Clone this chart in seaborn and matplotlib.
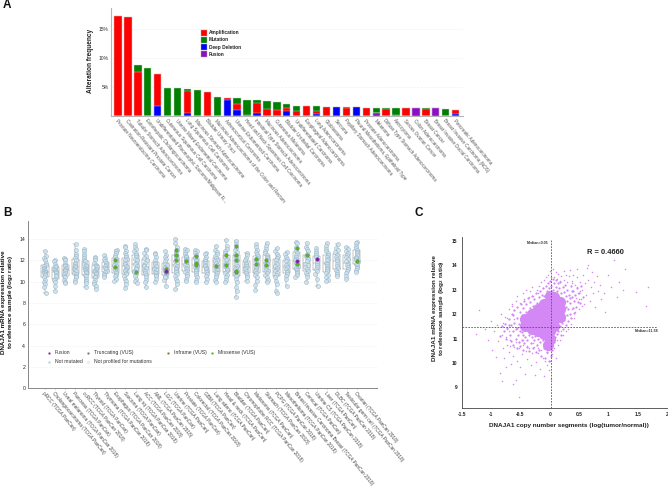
import seaborn as sns
import matplotlib
matplotlib.use('Agg')
import matplotlib.pyplot as plt
import numpy as np
import pandas as pd

W, H = 668, 487

# panel A
a_types = ['Prostate Neuroendocrine Carcinoma', 'Castration-Resistant Prostate Cancer',
    'Tubular Stomach Adenocarcinoma', 'Extrahepatic Cholangiocarcinoma',
    'Undifferentiated Pleomorphic Sarcoma/Malignant Fi...', 'Cutaneous Squamous Cell Carcinoma',
    'Uterine Mixed Endometrial Carcinoma', 'Lung Squamous Cell Carcinoma',
    'Mucinous Stomach Adenocarcinoma', 'Bladder Urinary Tract',
    'Mucinous Adenocarcinoma of the Colon and Rectum', 'Adrenocortical Carcinoma',
    'Uterine Endometrioid Carcinoma', 'Head and Neck Squamous Cell Carcinoma',
    'Intestinal Type Stomach Adenocarcinoma', 'Mucinous Adenocarcinoma',
    'Cutaneous Melanoma', 'Bladder Urothelial Carcinoma', 'Undifferentiated Carcinoma',
    'Esophageal Adenocarcinoma', 'Lung Adenocarcinoma', 'Glioblastoma', 'Sarcoma',
    'Papillary Stomach Adenocarcinoma', 'Pleural Mesothelioma, Epithelioid Type',
    'Prostate Adenocarcinoma', 'Melanoma', 'Diffuse Type Stomach Adenocarcinoma',
    'Astrocytoma', 'Serous Ovarian Cancer', 'Colon Adenocarcinoma', 'Breast Cancer',
    'Breast Invasive Ductal Carcinoma', 'Breast Invasive Carcinoma (NOS)',
    'Pancreatic Adenocarcinoma']
a_fusion = [0, 0, 0, 0, 0, 0, 0, 0, 0, 0, 0, 0, 0, 0, 0, 0, 0, 0, 0, 0, 0, 0, 0, 0, 0, 0,
    0.5, 0, 0, 0, 1.35, 0, 1.3, 0, 0]
a_deletion = [0, 0, 0, 0, 1.8, 0, 0, 0.45, 0, 0, 0, 2.8, 1.0, 0, 0.5, 0, 0, 0.8, 0, 0, 0.4,
    0, 1.6, 0, 1.5, 0, 0, 0, 0, 0, 0, 0, 0, 0, 0.3]
a_amplification = [17.3, 17.1, 7.65, 0, 5.45, 0, 0, 3.85, 0, 4.2, 0, 0.35, 1.05, 0.2, 1.7,
    1.25, 1.1, 0.6, 0.8, 1.65, 0.45, 1.6, 0, 1.35, 0, 1.45, 0, 1.2, 0.15, 1.35, 0, 1.2, 0, 0, 0.8]
a_mutation = [0, 0, 1.2, 8.3, 0, 4.8, 4.8, 0.3, 4.55, 0, 3.3, 0, 1.0, 2.6, 0.6, 1.25, 1.3,
    0.65, 0.9, 0, 0.8, 0, 0, 0.2, 0, 0, 0.9, 0.2, 1.25, 0, 0, 0.15, 0, 1.15, 0]
a_yticks = [5, 10, 15]
a_legend = ['Amplification', 'Mutation', 'Deep Deletion', 'Fusion']

# panel B
b_studies = ['pRCC (TCGA PanCan)', 'Cholangiocarcinoma (TCGA PanCan)',
    'Uveal melanoma (TCGA PanCan 2018)', 'Pancreas (TCGA PanCan)', 'ccRCC (TCGA PanCan 2018)',
    'Thyroid (TCGA PanCan)', 'Thymoma (TCGA PanCan 2018)', 'Esophagus (TCGA PanCan 2018)',
    'Sarcoma (TCGA PanCan)', 'Lung sq (TCGA PanCan 2018)', 'ACC (TCGA PanCan 2018)',
    'AML (TCGA PanCan 2018)', 'LGG (TCGA PanCan)', 'Uterine (TCGA PanCan)',
    'Prostate (TCGA PanCan)', 'Colorectal (TCGA PanCan 2018)', 'GBM (TCGA PanCan)',
    'Lung adeno (TCGA PanCan)', 'Head & neck (TCGA PanCan)', 'Bladder (TCGA PanCan)',
    'Chromophobe RCC (TCGA PanCan 2018)', 'Melanoma (TCGA PanCan)', 'Stomach (TCGA PanCan 2018)',
    'PCPG (TCGA PanCan 2018)', 'Mesothelioma (TCGA PanCan 2018)',
    'Breast Invasive Carcinoma Breast (TCGA PanCan 2018)', 'Cervical (TCGA PanCan)',
    'Uterine CS (TCGA PanCan 2018)', 'Liver (TCGA PanCan)', 'DLBC (TCGA PanCan 2018)',
    'Testicular germ cell (TCGA PanCan 2018)', 'Ovarian (TCGA PanCan 2018)']
b_values = [
    [12.9, 12.4, 12.2, 12.0, 11.8, 11.6, 11.5, 11.3, 11.2, 11.1, 11.0, 10.9, 10.9, 10.8, 10.7, 10.6, 10.4, 10.2, 10.0, 9.8, 9.5, 8.95],
    [12.0, 11.9, 11.7, 11.5, 11.4, 11.2, 11.1, 11.0, 10.9, 10.8, 10.6, 10.5, 10.3, 10.2, 10.0, 9.6, 9.15],
    [12.2, 12.1, 12.0, 11.8, 11.6, 11.5, 11.3, 11.2, 11.1, 11.0, 10.8, 10.7, 10.5, 10.4, 10.2, 10.0, 9.9],
    [13.5, 13.0, 12.6, 12.4, 12.2, 12.0, 11.8, 11.7, 11.5, 11.4, 11.2, 11.1, 11.0, 10.8, 10.7, 10.5, 10.4, 10.2, 10.0],
    [13.1, 12.9, 12.6, 12.4, 12.2, 12.0, 11.9, 11.7, 11.6, 11.5, 11.3, 11.2, 11.1, 11.0, 10.9, 10.8, 10.6, 10.5, 10.3, 10.1, 9.9, 9.5],
    [12.3, 12.2, 12.0, 11.8, 11.6, 11.5, 11.4, 11.2, 11.1, 11.0, 10.9, 10.8, 10.7, 10.5, 10.4, 10.2, 10.0, 9.8, 9.6, 9.3],
    [12.5, 12.2, 12.1, 11.9, 11.8, 11.6, 11.5, 11.3, 11.2, 11.0, 10.9, 10.7, 10.6, 10.4],
    [13.0, 12.9, 12.7, 12.5, 12.3, 12.1, 11.9, 11.8, 11.6, 11.5, 11.3, 11.2, 11.1, 10.9, 10.8, 10.6, 10.5, 10.3, 10.1],
    [13.4, 13.3, 12.9, 12.7, 12.5, 12.3, 12.1, 12.0, 11.8, 11.7, 11.5, 11.4, 11.2, 11.1, 11.0, 10.8, 10.7, 10.5, 10.3, 10.1, 9.8, 9.4],
    [13.5, 13.3, 13.1, 12.9, 12.7, 12.5, 12.3, 12.1, 12.0, 11.8, 11.7, 11.5, 11.3, 11.2, 11.0, 10.9, 10.7, 10.5, 10.3, 10.1, 9.9],
    [13.1, 13.0, 12.7, 12.4, 12.2, 12.0, 11.8, 11.6, 11.5, 11.3, 11.1, 11.0, 10.8, 10.6, 10.4, 10.2, 10.0, 9.5],
    [12.7, 12.6, 12.3, 12.0, 11.8, 11.7, 11.5, 11.3, 11.2, 11.1, 10.9, 10.8, 10.6, 10.5, 10.3, 10.0],
    [12.9, 12.5, 12.3, 12.1, 11.9, 11.7, 11.6, 11.4, 11.3, 11.2, 11.1, 11.0, 10.9, 10.8, 10.7, 10.5, 10.4, 10.2, 10.4, 9.6],
    [14.0, 13.6, 13.3, 13.0, 12.8, 12.6, 12.4, 12.2, 12.1, 11.9, 11.8, 11.6, 11.5, 11.3, 11.2, 11.0, 10.9, 10.7, 10.5, 10.3, 10.1, 9.8, 9.3],
    [13.1, 13.0, 12.8, 12.6, 12.4, 12.3, 12.1, 12.0, 11.9, 11.7, 11.6, 11.5, 11.3, 11.2, 11.0, 10.9, 10.7, 10.5, 10.3, 10.1],
    [13.0, 12.9, 12.7, 12.5, 12.3, 12.2, 12.0, 11.9, 11.7, 11.6, 11.5, 11.4, 11.2, 11.1, 11.0, 10.8, 10.6, 10.4, 10.2, 10.0],
    [12.7, 12.6, 12.3, 12.1, 11.9, 11.8, 11.6, 11.5, 11.3, 11.2, 11.0, 10.9, 10.7, 10.5, 10.3, 10.0],
    [13.4, 13.0, 12.8, 12.6, 12.4, 12.2, 12.0, 11.9, 11.8, 11.6, 11.5, 11.4, 11.2, 11.1, 10.9, 10.8, 10.6, 10.4, 10.2, 10.0],
    [13.9, 13.4, 13.1, 12.9, 12.7, 12.5, 12.3, 12.1, 12.0, 11.8, 11.7, 11.5, 11.4, 11.2, 11.1, 10.9, 10.8, 10.6, 10.4, 10.2, 10.0],
    [13.8, 13.5, 13.2, 13.0, 12.8, 12.6, 12.4, 12.2, 12.0, 11.9, 11.7, 11.5, 11.3, 11.2, 11.0, 10.8, 10.6, 10.5, 10.3, 10.0, 9.5, 9.1, 8.6],
    [12.7, 12.5, 12.2, 12.0, 11.8, 11.7, 11.5, 11.3, 11.2, 11.0, 10.8, 10.6, 10.4, 10.1],
    [13.5, 13.3, 13.0, 12.8, 12.6, 12.4, 12.2, 12.1, 11.9, 11.7, 11.6, 11.4, 11.3, 11.1, 11.0, 10.8, 10.6, 10.4, 10.1, 9.7, 9.2],
    [13.6, 13.4, 13.1, 12.9, 12.7, 12.5, 12.3, 12.2, 12.0, 11.8, 11.7, 11.5, 11.3, 11.1, 11.0, 10.8, 10.6, 10.4, 10.2, 10.0],
    [13.2, 12.9, 12.6, 12.4, 12.2, 12.0, 11.8, 11.7, 11.5, 11.3, 11.1, 11.0, 10.8, 10.6, 10.4, 10.1, 9.8, 9.1, 8.9],
    [12.8, 12.6, 12.3, 12.1, 11.9, 11.7, 11.6, 11.4, 11.2, 11.0, 10.9, 10.7, 10.5, 10.3, 9.6],
    [13.7, 13.6, 13.3, 13.1, 12.9, 12.7, 12.5, 12.3, 12.1, 12.0, 11.8, 11.7, 11.5, 11.4, 11.2, 11.1, 10.9, 10.8, 10.6, 10.4],
    [13.6, 13.3, 13.1, 12.9, 12.6, 12.4, 12.2, 12.1, 11.9, 11.7, 11.6, 11.4, 11.2, 11.0, 10.8, 10.6, 10.4, 10.0],
    [13.2, 12.9, 12.7, 12.5, 12.3, 12.1, 11.9, 11.8, 11.6, 11.4, 11.2, 11.0, 10.7, 10.3, 9.6],
    [13.6, 13.4, 13.1, 12.9, 12.7, 12.5, 12.3, 12.1, 12.0, 11.8, 11.7, 11.5, 11.3, 11.2, 11.0, 10.8, 10.6, 10.4, 10.2, 10.1],
    [13.5, 13.2, 13.0, 12.8, 12.5, 12.3, 12.1, 11.9, 11.7, 11.5, 11.3, 11.1, 10.9, 10.7, 10.5],
    [13.3, 13.1, 12.9, 12.7, 12.5, 12.3, 12.1, 11.9, 11.7, 11.6, 11.4, 11.2, 11.0, 10.8, 10.5, 10.3],
    [13.7, 13.6, 13.4, 13.2, 13.0, 12.8, 12.7, 12.5, 12.3, 12.2, 12.0, 11.9, 11.7, 11.6, 11.4, 11.3, 11.1, 10.9],
]
missense_study = [7, 7, 9, 13, 13, 13, 12, 12, 14, 15, 15, 15, 17, 18, 18, 19, 19, 19, 19, 19, 21, 21, 22, 22, 25, 25, 26, 31]
missense_value = [12.0, 11.4, 10.9, 13.0, 12.5, 12.0, 11.2, 10.9, 11.9, 12.4, 11.8, 11.6, 11.5, 12.5, 11.6, 13.4, 12.5, 12.0, 10.9, 11.0, 12.1, 11.7, 12.0, 11.6, 13.2, 11.7, 12.5, 11.9]
fusion_study = [12, 25, 27]
fusion_value = [11.0, 11.9, 12.15]
b_yticks = [0, 2, 4, 6, 8, 10, 12, 14]

# panel C
c_core = [(0, 11.0), (0, 11.3), (0, 11.6), (0, 11.9), (0, 12.2), (0, 12.5), (0, 12.75),
    (-0.1, 11.2), (-0.1, 11.5), (-0.1, 11.8), (-0.1, 12.1), (-0.1, 12.4),
    (0.08, 11.5), (0.08, 11.8), (0.08, 12.1), (0.08, 12.4), (0.08, 12.7),
    (-0.2, 11.3), (-0.2, 11.6), (-0.2, 11.9), (-0.2, 12.2),
    (-0.3, 11.4), (-0.3, 11.7), (-0.3, 12.0), (0.18, 11.9), (0.18, 12.2), (0.18, 12.5),
    (-0.42, 11.5), (-0.42, 11.8), (-0.03, 10.75)]
c_mid = [(-0.78, 11.3), (-0.76, 11.6), (-0.74, 11.0), (-0.72, 11.45), (-0.7, 11.8), (-0.68, 11.15), (-0.66, 10.9), (-0.66, 11.55),
    (-0.64, 12.0), (-0.63, 11.3), (-0.62, 10.75), (-0.6, 11.65), (-0.6, 12.15), (-0.58, 11.0), (-0.58, 11.4), (-0.56, 10.6),
    (-0.56, 11.85), (-0.55, 12.3), (-0.54, 11.15), (-0.53, 10.85), (-0.52, 11.6), (-0.51, 12.1), (-0.5, 10.7), (-0.5, 11.3),
    (-0.49, 12.4), (-0.48, 11.95), (-0.47, 10.95), (-0.46, 11.15), (-0.45, 10.55), (-0.45, 12.25), (-0.44, 12.55), (-0.43, 10.8),
    (-0.42, 11.05), (-0.41, 12.1), (-0.4, 12.4), (-0.39, 10.65), (-0.38, 10.95), (-0.37, 12.65), (-0.36, 11.15), (-0.35, 10.5),
    (-0.34, 12.25), (-0.33, 12.5), (-0.32, 10.8), (-0.31, 11.05), (-0.3, 12.75), (-0.29, 10.6), (-0.28, 12.35), (-0.27, 10.95),
    (-0.26, 12.6), (-0.25, 11.1), (-0.24, 10.45), (-0.23, 12.85), (-0.22, 10.75), (-0.21, 12.45), (-0.2, 11.0), (-0.19, 12.7),
    (-0.18, 10.55), (-0.17, 12.95), (-0.16, 10.85), (-0.15, 12.55), (-0.14, 10.3), (-0.13, 12.8), (-0.12, 10.95), (-0.11, 13.05),
    (-0.1, 10.6), (-0.09, 12.75), (-0.08, 10.2), (-0.07, 13.15), (-0.06, 10.8), (-0.05, 12.95), (-0.04, 10.45), (-0.03, 13.25),
    (-0.02, 10.1), (-0.01, 13.05), (0.01, 13.35), (0.02, 10.3), (0.03, 13.15), (0.04, 10.55), (0.05, 13.45), (0.06, 13.0),
    (0.07, 10.85), (0.08, 13.25), (0.09, 11.05), (0.1, 13.1), (0.11, 13.4), (0.12, 11.2), (0.13, 12.95), (0.14, 13.25),
    (0.15, 11.3), (0.16, 13.05), (0.17, 11.5), (0.18, 13.3), (0.19, 11.15), (0.2, 12.85), (0.21, 11.65), (0.22, 13.1),
    (0.23, 11.4), (0.24, 12.9), (0.25, 11.75), (0.26, 13.2), (0.27, 11.55), (0.27, 12.3), (0.28, 12.75), (0.29, 11.95),
    (0.3, 12.55), (0.3, 13.0), (0.31, 11.7), (0.32, 12.2), (0.33, 12.8), (0.34, 12.0), (0.35, 12.45), (0.36, 13.15),
    (0.37, 11.85), (0.38, 12.7), (0.39, 12.25), (0.4, 12.95), (0.41, 12.05), (0.42, 12.55), (0.44, 12.8), (0.45, 12.3),
    (0.47, 13.05), (0.48, 12.5), (0.5, 12.85), (0.52, 12.45), (0.54, 13.15), (0.56, 12.7), (-0.82, 11.5), (-0.85, 11.1),
    (-0.62, 11.95), (-0.7, 11.55), (-0.55, 11.45), (-0.48, 11.25), (0.34, 12.65), (0.38, 12.95)]
c_sparse = [(-1.2, 12.15), (-1.25, 11.2), (-1.1, 11.4), (-1.05, 10.95), (-1.0, 11.7), (-0.98, 10.55), (-0.95, 11.3),
    (-0.92, 10.25), (-0.9, 11.55), (-0.88, 10.9), (-0.85, 9.6), (-0.83, 12.0), (-0.82, 11.15), (-0.8, 10.6),
    (-0.8, 11.65), (-0.78, 10.2), (-0.76, 11.9), (-0.75, 9.85), (-0.73, 11.4), (-0.72, 10.75), (-0.7, 12.2),
    (-0.7, 10.45), (-0.68, 10.95), (-0.66, 9.95), (-0.65, 12.4), (-0.63, 10.3), (-0.6, 12.15), (-0.6, 10.65),
    (-0.58, 12.55), (-0.57, 9.3), (-0.55, 10.1), (-0.55, 12.75), (-0.52, 10.6), (-0.5, 12.45), (-0.5, 9.85),
    (-0.48, 10.35), (-0.46, 12.85), (-0.45, 10.75), (-0.43, 12.6), (-0.42, 9.55), (-0.4, 10.5), (-0.4, 13.0),
    (-0.38, 10.15), (-0.36, 12.7), (-0.35, 10.6), (-0.33, 12.95), (-0.32, 9.9), (-0.3, 10.4), (-0.3, 13.1),
    (-0.28, 12.75), (-0.26, 10.65), (-0.25, 9.5), (-0.24, 10.05), (-0.22, 13.0), (-0.2, 10.4), (-0.2, 12.85),
    (-0.18, 13.15), (-0.17, 9.75), (-0.15, 10.55), (-0.14, 13.3), (-0.12, 10.2), (-0.12, 13.05), (-0.1, 9.45),
    (-0.1, 13.4), (-0.08, 10.1), (-0.06, 13.5), (-0.05, 9.9), (-0.04, 10.4), (-0.03, 13.6), (-0.01, 9.7),
    (0.0, 13.75), (0.01, 10.1), (0.02, 9.35), (0.03, 13.5), (0.04, 10.35), (0.05, 13.85), (0.07, 10.6),
    (0.08, 13.5), (0.1, 13.7), (0.1, 10.2), (0.12, 13.45), (0.14, 10.75), (0.15, 13.65), (0.17, 13.35),
    (0.18, 10.95), (0.2, 13.55), (0.22, 11.15), (0.24, 13.75), (0.25, 13.4), (0.27, 11.3), (0.28, 13.6),
    (0.3, 13.3), (0.31, 11.4), (0.33, 13.55), (0.35, 13.8), (0.36, 11.6), (0.38, 13.35), (0.4, 13.6),
    (0.41, 11.85), (0.43, 13.2), (0.44, 12.1), (0.46, 13.5), (0.47, 13.85), (0.49, 12.85), (0.5, 12.2),
    (0.52, 13.3), (0.53, 12.6), (0.55, 13.0), (0.56, 13.6), (0.58, 12.4), (0.6, 13.25), (0.62, 12.8),
    (0.63, 13.9), (0.65, 14.0), (0.66, 13.4), (0.68, 12.55), (0.7, 13.1), (0.72, 13.7), (0.74, 12.85),
    (0.76, 13.3), (0.78, 12.3), (0.8, 13.55), (0.82, 12.95), (0.85, 13.2), (0.88, 12.6), (0.92, 12.85),
    (0.95, 12.1), (1.0, 13.6), (1.05, 13.1), (1.1, 14.2), (1.15, 12.7), (1.18, 13.3), (1.25, 13.0),
    (1.28, 13.85), (1.48, 12.9), (1.65, 12.35), (1.68, 13.1), (-0.52, 8.6), (-0.62, 9.15), (-0.82, 9.25),
    (-0.6, 11.8), (-0.7, 11.3), (-0.72, 11.85), (-0.64, 12.35), (-0.75, 11.05), (-0.68, 10.7), (-0.58, 10.85),
    (-0.52, 10.85), (-0.45, 10.95), (-0.38, 10.7), (-0.28, 10.8), (-0.2, 10.6), (0.12, 10.95), (0.2, 11.3),
    (0.38, 12.2), (0.45, 12.65), (0.5, 12.6), (0.47, 13.1), (0.52, 12.95), (0.38, 13.25), (0.55, 12.35)]
c_xticks = [-1.5, -1, -0.5, 0, 0.5, 1, 1.5, 2]
c_xlabels = ['-1.5', '-1', '-0.5', '0', '0.5', '1', '1.5', '2']
c_yticks = [9, 10, 11, 12, 13, 14, 15]
median_x = 0.02
median_y = 11.47


def box(left, top, right, bottom):
    return [left / W, 1 - bottom / H, (right - left) / W, (bottom - top) / H]


sns.set_theme(style='white')
plt.rcParams['font.family'] = ['Liberation Sans', 'DejaVu Sans']
plt.rcParams['mathtext.fontset'] = 'custom'
plt.rcParams['mathtext.bf'] = 'Liberation Sans:bold'
plt.rcParams['mathtext.rm'] = 'Liberation Sans:bold'

fig = plt.figure(figsize=(W / 100, H / 100), dpi=100)

# A: stacked by drawing cumulative totals back to front
ax = fig.add_axes(box(110.5, 8, 463, 116))
df_a = pd.DataFrame({'type': a_types, 'Fusion': a_fusion, 'Deep Deletion': a_deletion,
                     'Amplification': a_amplification, 'Mutation': a_mutation})
stack_order = ['Fusion', 'Deep Deletion', 'Amplification', 'Mutation']
stack_colors = {'Fusion': '#8c0fc4', 'Deep Deletion': '#0000ff', 'Amplification': '#ff0000', 'Mutation': '#008000'}
cum = df_a[stack_order].cumsum(axis=1)
for name in reversed(stack_order):
    sns.barplot(x=df_a['type'], y=cum[name], color=stack_colors[name], width=0.74, saturation=1,
                edgecolor='#d8d8d8', linewidth=0.3, ax=ax, zorder=3)
ax.set_xlim(-0.755, 34.74)
ax.set_ylim(0, 18.6)
ax.set_yticks(a_yticks, [f'{t}%' for t in a_yticks], fontsize=3.6, color='#333333')
ax.tick_params(axis='y', length=1, width=0.4, pad=0.5, color='#999999')
ax.tick_params(axis='x', length=0, pad=1.5)
ax.set_xticks(range(len(a_types)))
ax.set_xticklabels(a_types, rotation=-50, ha='left', va='top', rotation_mode='anchor',
                   fontsize=3.25, color='#555555')
ax.set_xlabel('')
ax.set_ylabel('')
ax.yaxis.grid(True, color='#f1f1f1', lw=0.5, ls='--')
ax.set_axisbelow(True)
sns.despine(ax=ax)
for s in ['left', 'bottom']:
    ax.spines[s].set_color('#b5b5b5')
    ax.spines[s].set_linewidth(0.8)
fig.text(91 / W, 1 - 61 / H, 'Alteration frequency', rotation=90, fontsize=4.7, fontweight='bold',
         ha='center', va='center', color='#222222')
for i, name in enumerate(a_legend):
    y = 1 - (32.5 + i * 7.3) / H
    fig.add_artist(plt.Rectangle((201 / W, y - 3 / H), 6 / W, 6 / H, facecolor=stack_colors[name],
                                 edgecolor='#aaaaaa', linewidth=0.3, transform=fig.transFigure))
    fig.text(209 / W, y, name, fontsize=3.4, fontweight='bold', va='center', color='#222222')

# B
ax = fig.add_axes(box(28, 221, 377, 388.3))
df_b = pd.DataFrame([(s, v) for s, vals in zip(b_studies, b_values) for v in vals], columns=['study', 'value'])
ax.set_axisbelow(True)
ax.grid(True, color='#f0f0f0', lw=0.4, ls='--')
sns.boxplot(data=df_b, x='study', y='value', order=b_studies, fill=False, width=0.7, fliersize=0,
            color='#8a8a8a', linewidth=0.35, ax=ax, zorder=1)
np.random.seed(3)  # only for the sideways jitter of the strips
sns.stripplot(data=df_b, x='study', y='value', order=b_studies, size=2.9, jitter=0.13, color='#cfe1ec',
              edgecolor='#8fb1c5', linewidth=0.4, alpha=0.85, ax=ax, zorder=2)
sns.stripplot(x=[b_studies[i] for i in missense_study], y=missense_value, order=b_studies, jitter=False,
              size=2.6, color='#4fb81c', edgecolor='#777777', linewidth=0.3, ax=ax, zorder=4)
sns.stripplot(x=[b_studies[i] for i in fusion_study], y=fusion_value, order=b_studies, jitter=False,
              size=2.6, color='#8c0fc4', edgecolor='#777777', linewidth=0.3, ax=ax, zorder=5)
ax.set_xlim(-1.69, 33.0)
ax.set_ylim(0, 15.7)
ax.set_yticks(b_yticks, b_yticks, fontsize=3.7, color='#222222')
ax.tick_params(axis='y', length=1, width=0.4, pad=1, color='#777777')
ax.tick_params(axis='x', length=1, width=0.4, pad=1, color='#777777', bottom=True)
ax.set_xticks(range(len(b_studies)))
ax.set_xticklabels(b_studies, rotation=-50, ha='left', va='top', rotation_mode='anchor',
                   fontsize=3.4, color='#444444')
ax.set_xlabel('')
ax.set_ylabel('')
sns.despine(ax=ax)
for s in ['left', 'bottom']:
    ax.spines[s].set_color('#888888')
    ax.spines[s].set_linewidth(0.7)
fig.text(8 / W, 1 - 302 / H, 'DNAJA1 mRNA expression relative\nto reference sample (log$_{\\mathbf{2}}$ ratio)',
         rotation=90, fontsize=4.5, fontweight='bold', ha='center', va='center', linespacing=1.05, color='#111111')
b_legend = [(49, 352.7, 'Fusion', '#8c0fc4'), (88, 352.7, 'Truncating (VUS)', '#777777'),
            (168, 352.7, 'Inframe (VUS)', '#93761f'), (212, 352.7, 'Missense (VUS)', '#4fb81c'),
            (49, 361.7, 'Not mutated', '#c4dde9'), (88, 361.7, 'Not profiled for mutations', '#f4f4f4')]
for lx, ly, text, color in b_legend:
    fig.add_artist(plt.Line2D([lx / W], [1 - ly / H], marker='o', ms=1.6, color=color, mec='#bbbbbb', mew=0.15))
    fig.text((lx + 6) / W, 1 - ly / H, text, fontsize=3.7, va='center', color='#333333')

# C
ax = fig.add_axes(box(461.7, 237, 667, 408.3))
point_color = '#d488f5'
for pts, s in [(c_core, 65), (c_mid, 2.6), (c_sparse, 1.2)]:
    df_c = pd.DataFrame(pts, columns=['cn', 'expr'])
    sns.scatterplot(data=df_c, x='cn', y='expr', s=s, color=point_color, linewidth=0, ax=ax, zorder=2)
ax.set_xlim(-1.5, 2)
ax.set_ylim(8.15, 15.15)
ax.plot([median_x, median_x], [8.15, 15.05], color='#555555', lw=0.6, ls=(0, (2, 1.5)), zorder=3)
ax.plot([-1.5, 1.83], [median_y, median_y], color='#555555', lw=0.6, ls=(0, (2, 1.5)), zorder=3)
ax.set_xticks(c_xticks, c_xlabels, fontsize=3.5, fontweight='bold')
ax.set_yticks(c_yticks, c_yticks, fontsize=3.5, fontweight='bold')
ax.tick_params(length=0, pad=3, colors='#222222')
ax.set_xlabel('')
ax.set_ylabel('')
sns.despine(ax=ax)
for s in ['left', 'bottom']:
    ax.spines[s].set_color('#444444')
    ax.spines[s].set_linewidth(0.6)
fig.text(569 / W, 1 - 425.7 / H, 'DNAJA1 copy number segments (log(tumor/normal))', fontsize=4.6, fontweight='bold',
         ha='center', va='center', color='#222222')
fig.text(439 / W, 1 - 308 / H, 'DNAJA1 mRNA expression relative\nto reference sample (log$_{\\mathbf{2}}$ ratio)',
         rotation=90, fontsize=4.6, fontweight='bold', ha='center', va='center', linespacing=1.15, color='#222222')
fig.text(587 / W, 1 - 253 / H, 'R = 0.4660', fontsize=5.4, fontweight='bold', va='center', color='#222222')
fig.text(548 / W, 1 - 243 / H, 'Median=0.05', fontsize=2.6, fontweight='bold', va='center', ha='right', color='#333333')
fig.text(635 / W, 1 - 330.5 / H, 'Median=11.58', fontsize=2.6, fontweight='bold', va='center', color='#333333')

for letter, lx, ly in [('A', 7, 4.5), ('B', 8, 213), ('C', 419, 213)]:
    fig.text(lx / W, 1 - ly / H, letter, fontsize=8.5, fontweight='bold', ha='center', va='center', color='#111111')

fig.savefig('out.png', dpi=100)
